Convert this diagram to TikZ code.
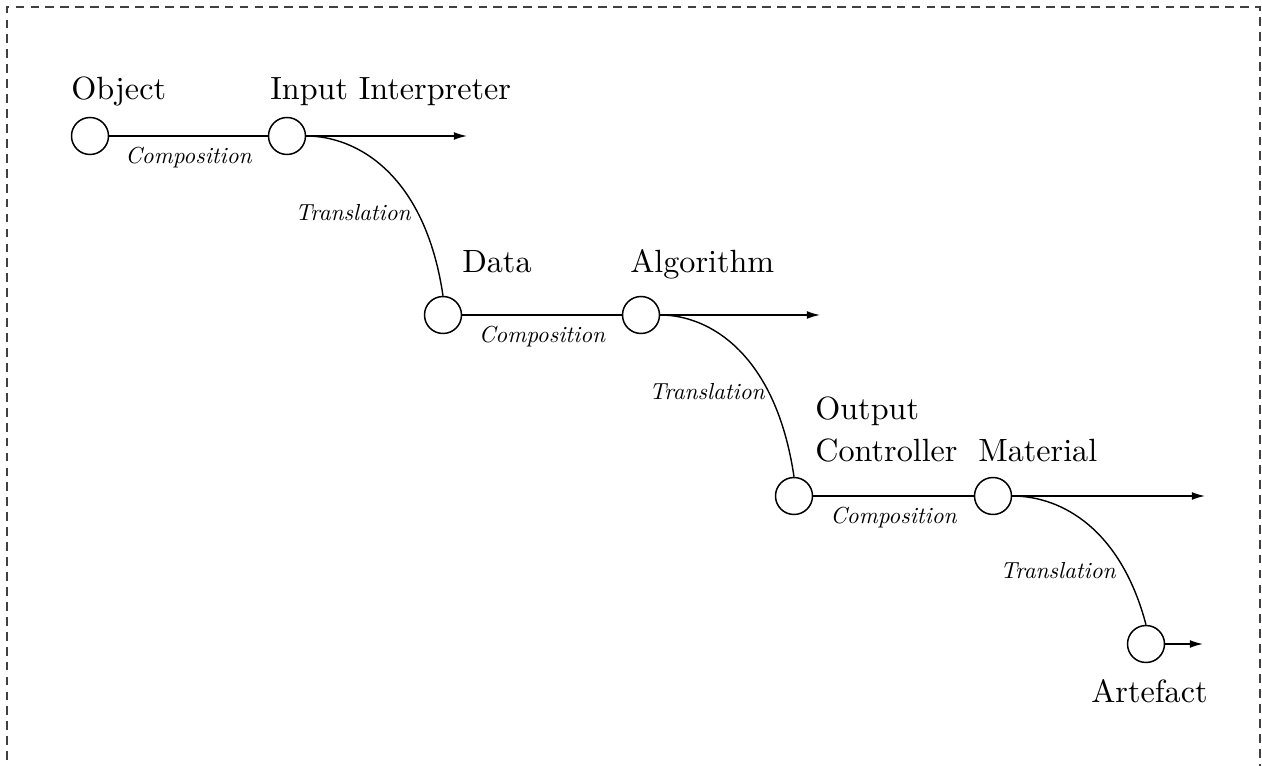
\documentclass[tikz,border=0pt]{standalone}
\usepackage{fontspec}
\setmainfont{lmroman10-regular.otf}[ItalicFont=lmroman10-italic.otf,BoldFont=lmroman10-bold.otf]
\usetikzlibrary{arrows.meta,calc}
\begin{document}
\begin{tikzpicture}[x=0.02cm,y=-0.02cm,
  state/.style={circle,draw,line width=0.85pt,minimum size=0.74cm,inner sep=0pt},
  lbl/.style={inner sep=0pt,anchor=base west,font=\fontsize{18.3}{22}\selectfont},
  edgelbl/.style={inner sep=0pt,font=\fontsize{13.2}{15}\selectfont\itshape},
  conn/.style={line width=0.8pt},
  arr/.style={line width=0.8pt,-{Latex[length=7.5pt,width=4.5pt]}},
  frame/.style={line width=0.6pt,draw=black!75,dash pattern=on 5pt off 3.5pt}]
\useasboundingbox (0,0) rectangle (1262,766);
\draw[frame] (7,775) -- (7,7) -- (1260,7) -- (1260,775);

% states
\node[state] (o1) at (90,136) {};
\node[state] (o2) at (287,136) {};
\node[state] (o3) at (443,315) {};
\node[state] (o4) at (641,315) {};
\node[state] (o5) at (794,496) {};
\node[state] (o6) at (993,496) {};
\node[state] (o7) at (1146,644) {};

% free ends of arrows
\coordinate (e2) at (467,136);
\coordinate (e4) at (820,315);
\coordinate (e6) at (1205,496);
\coordinate (e7) at (1203,644);

% names
\node[lbl] (t1) at (71,100) {Object};
\node[lbl] (t2) at (270,100) {Input Interpreter};
\node[lbl] (t3) at (462,273) {Data};
\node[lbl] (t4) at (630,273) {Algorithm};
\node[lbl] (t5a) at (815,420) {Output};
\node[lbl] (t5b) at (815,462) {Controller};
\node[lbl] (t6) at (978,462) {Material};
\node[lbl] (t7) at (1091,703) {Artefact};

% composition
\draw[conn] (o1) -- node[edgelbl,below=6pt] (c1) {Composition} (o2);
\draw[conn] (o3) -- node[edgelbl,below=6pt] (c2) {Composition} (o4);
\draw[conn] (o5) -- node[edgelbl,below=6pt] (c3) {Composition} (o6);

% onward arrows
\draw[arr] (o2.east) -- (e2);
\draw[arr] (o4.east) -- (e4);
\draw[arr] (o6.east) -- (e6);
\draw[arr] (o7.east) -- (e7);

% translation
\draw[conn] (o2.east) .. controls +(50,0) and +(-18,-122) .. (o3.north);
\draw[conn] (o4.east) .. controls +(50,0) and +(-18,-122) .. (o5.north);
\draw[conn] (o6.east) .. controls +(50,0) and +(-25,-95) .. (o7.north);
\node[edgelbl] (r1) at (353,213) {Translation};
\node[edgelbl] (r2) at (707,392) {Translation};
\node[edgelbl] (r3) at (1058,571) {Translation};
\end{tikzpicture}
\end{document}
